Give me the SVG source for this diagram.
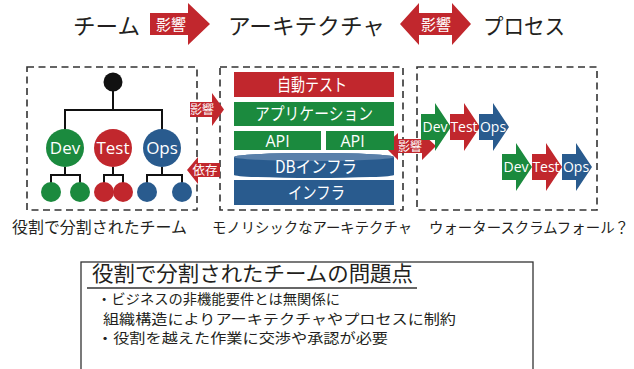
<svg xmlns="http://www.w3.org/2000/svg" width="634" height="369" viewBox="0 0 634 369">
<style>
.jp{font-family:"Noto Sans CJK JP","Noto Sans",sans-serif;}
.lat{font-family:"Open Sans","Liberation Sans",sans-serif;}
.dk{fill:#231f20;}
.wt{fill:#ffffff;}
.box{fill:none;stroke:#333333;stroke-width:1.6;stroke-dasharray:7 4.5;}
.red{fill:#c1272d;}
.grn{fill:#1b8a3e;}
.blu{fill:#295b8e;}
.ln{stroke:#111111;stroke-width:2;fill:none;}
</style>

<g id="title">
  <text class="jp dk" x="73" y="34" font-size="22" textLength="67" lengthAdjust="spacingAndGlyphs">チーム</text>
  <text class="jp dk" x="228" y="34" font-size="22" textLength="157" lengthAdjust="spacingAndGlyphs">アーキテクチャ</text>
  <text class="jp dk" x="483" y="34" font-size="22" textLength="82" lengthAdjust="spacingAndGlyphs">プロセス</text>
</g>

<g id="team-box">
  <rect class="box" x="27" y="67" width="170" height="143"/>
  <text class="jp dk" x="12" y="233" font-size="15.5" textLength="175" lengthAdjust="spacingAndGlyphs">役割で分割されたチーム</text>
</g>
<g id="arch-box">
  <rect class="box" x="220" y="67" width="183" height="143"/>
  <text class="jp dk" x="212" y="233" font-size="14.5" textLength="200" lengthAdjust="spacingAndGlyphs">モノリシックなアーキテクチャ</text>
</g>
<g id="process-box">
  <rect class="box" x="417" y="67" width="180" height="143"/>
  <text class="jp dk" x="429" y="233" font-size="14.5" textLength="200" lengthAdjust="spacingAndGlyphs">ウォータースクラムフォール？</text>
</g>

<g id="connectors">
  <path class="ln" d="M113,82 V110 M65,148 V110 H162 V148"/>
  <path class="ln" d="M65,167 V175 M51,192 V175 H80 V192"/>
  <path class="ln" d="M113,167 V175 M104,192 V175 H123 V192"/>
  <path class="ln" d="M162,167 V175 M147,192 V175 H182 V192"/>
  <g id="top-arrow-1">
    <polygon class="red" points="150,13 188,13 188,3 210,24 188,45 188,35 150,35"/>
    <text class="jp wt" x="171" y="29.5" font-size="15" text-anchor="middle">影響</text>
  </g>
  <g id="top-arrow-2">
    <polygon class="red" points="400,24 419,3 419,13 452,13 452,3 471,24 452,45 452,35 419,35 419,45"/>
    <text class="jp wt" x="436" y="29.5" font-size="15" text-anchor="middle">影響</text>
  </g>
  <g id="side-arrow-influence">
    <polygon class="red" points="190,102 212,102 212,93 224,109.5 212,126 212,117 190,117"/>
    <text class="jp wt" x="202" y="114" font-size="12" text-anchor="middle">影響</text>
  </g>
  <g id="side-arrow-depend">
    <polygon class="red" points="187,170 198,157 198,163 220,163 220,177 198,177 198,184"/>
    <text class="jp wt" x="205" y="174.5" font-size="12.5" text-anchor="middle">依存</text>
  </g>
  <g id="side-arrow-influence-2">
    <polygon class="red" points="384,146 398,133 398,139 422,139 422,133 436,146 422,160 422,153 398,153 398,160"/>
    <text class="jp wt" x="410" y="150.5" font-size="12" text-anchor="middle">影響</text>
  </g>
</g>

<g id="tree">
  <circle id="root" cx="113" cy="82" r="9.5" fill="#111111"/>
  <g id="dev-team">
    <circle class="grn" cx="65" cy="148" r="19"/>
    <text class="lat wt" x="65" y="154" font-size="17" text-anchor="middle">Dev</text>
    <circle class="grn" cx="51" cy="192" r="10"/>
    <circle class="grn" cx="80" cy="192" r="10"/>
  </g>
  <g id="test-team">
    <circle class="red" cx="113" cy="148" r="19"/>
    <text class="lat wt" x="113" y="154" font-size="17" text-anchor="middle">Test</text>
    <circle class="red" cx="104" cy="192" r="10"/>
    <circle class="red" cx="123" cy="192" r="10"/>
  </g>
  <g id="ops-team">
    <circle class="blu" cx="162" cy="148" r="19"/>
    <text class="lat wt" x="162" y="154" font-size="17" text-anchor="middle">Ops</text>
    <circle class="blu" cx="147" cy="192" r="10"/>
    <circle class="blu" cx="182" cy="192" r="10"/>
  </g>
</g>

<g id="stack">
  <g id="autotest">
    <rect class="red" x="234" y="72" width="160" height="25"/>
    <text class="jp wt" x="277" y="90.5" font-size="17" textLength="70" lengthAdjust="spacingAndGlyphs">自動テスト</text>
  </g>
  <g id="application">
    <rect class="grn" x="234" y="102" width="160" height="24"/>
    <text class="jp wt" x="255" y="120" font-size="17" textLength="118" lengthAdjust="spacingAndGlyphs">アプリケーション</text>
  </g>
  <g id="api-1">
    <rect class="grn" x="234" y="131" width="87" height="19"/>
    <text class="lat wt" x="277.5" y="146.5" font-size="16" text-anchor="middle">API</text>
  </g>
  <g id="api-2">
    <rect class="grn" x="326" y="131" width="68" height="19"/>
    <text class="lat wt" x="352.5" y="146.5" font-size="16" text-anchor="middle">API</text>
  </g>
  <g id="db-infra">
    <path class="blu" d="M234,157 A80,4 0 0 1 394,157 V175 A80,3 0 0 1 234,175 Z"/>
    <ellipse cx="314" cy="157" rx="80" ry="4" fill="#5a80aa"/>
    <text class="jp wt" x="275" y="172.5" font-size="17" textLength="82" lengthAdjust="spacingAndGlyphs">DBインフラ</text>
  </g>
  <g id="infra">
    <rect class="blu" x="234" y="180" width="160" height="25"/>
    <text class="jp wt" x="288" y="199" font-size="17" textLength="57" lengthAdjust="spacingAndGlyphs">インフラ</text>
  </g>
</g>

<g id="waterfall">
  <g id="wf1-dev">
    <polygon class="grn" points="421,114 435,114 435,103 451,127 435,151 435,140 421,140"/>
    <text class="lat wt" x="435" y="132" font-size="14" text-anchor="middle">Dev</text>
  </g>
  <g id="wf1-test">
    <polygon class="red" points="450,114 464,114 464,103 480,127 464,151 464,140 450,140"/>
    <text class="lat wt" x="464" y="132" font-size="14" text-anchor="middle">Test</text>
  </g>
  <g id="wf1-ops">
    <polygon class="blu" points="479,114 493,114 493,103 509,127 493,151 493,140 479,140"/>
    <text class="lat wt" x="493" y="132" font-size="14" text-anchor="middle">Ops</text>
  </g>
  <g id="wf2-dev">
    <polygon class="grn" points="502,154 516,154 516,143 532,167 516,191 516,180 502,180"/>
    <text class="lat wt" x="516" y="172" font-size="14" text-anchor="middle">Dev</text>
  </g>
  <g id="wf2-test">
    <polygon class="red" points="532,154 546,154 546,143 562,167 546,191 546,180 532,180"/>
    <text class="lat wt" x="546" y="172" font-size="14" text-anchor="middle">Test</text>
  </g>
  <g id="wf2-ops">
    <polygon class="blu" points="562,154 576,154 576,143 592,167 576,191 576,180 562,180"/>
    <text class="lat wt" x="576" y="172" font-size="14" text-anchor="middle">Ops</text>
  </g>
</g>

<g id="problems">
  <rect x="81" y="262" width="452" height="120" fill="#ffffff" stroke="#333333" stroke-width="1.3"/>
  <text class="jp dk" x="92" y="281" font-size="21" textLength="321" lengthAdjust="spacingAndGlyphs">役割で分割されたチームの問題点</text>
  <line x1="87" y1="288" x2="417" y2="288" stroke="#333333" stroke-width="1.3"/>
  <text class="jp dk" font-size="13.5">
    <tspan x="97" y="304" textLength="243" lengthAdjust="spacingAndGlyphs">・ビジネスの非機能要件とは無関係に</tspan>
    <tspan x="103" y="323.7" textLength="353" lengthAdjust="spacingAndGlyphs">組織構造によりアーキテクチャやプロセスに制約</tspan>
    <tspan x="97" y="343.4" textLength="291" lengthAdjust="spacingAndGlyphs">・役割を越えた作業に交渉や承認が必要</tspan>
  </text>
</g>
</svg>
